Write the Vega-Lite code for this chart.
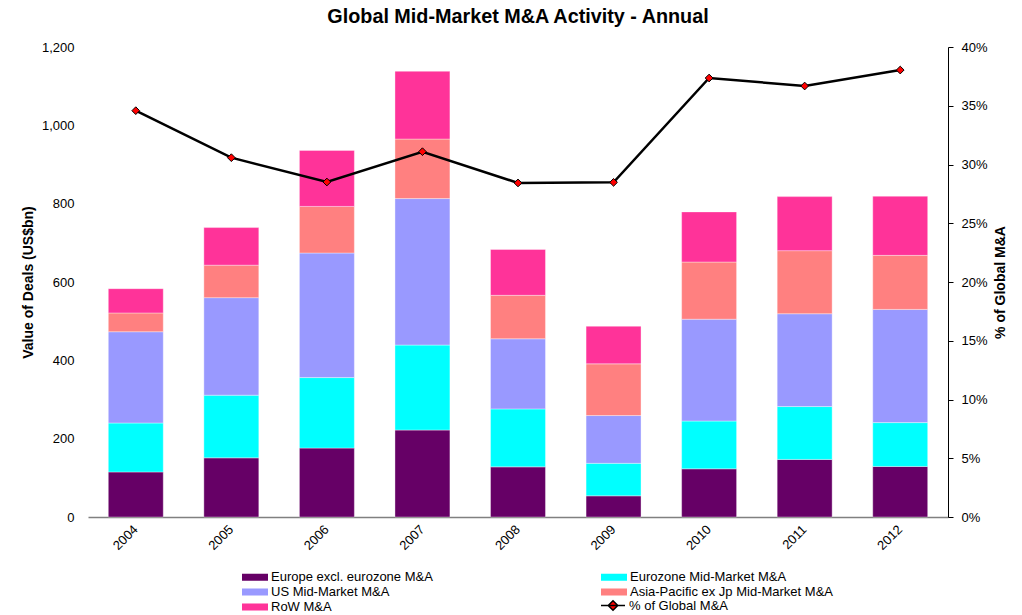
{
  "$schema": "https://vega.github.io/schema/vega-lite/v6.json",
  "width": 860,
  "height": 470,
  "autosize": "none",
  "padding": {"left": 88, "top": 47, "right": 74, "bottom": 98},
  "background": "white",
  "config": {
    "font": "Liberation Sans",
    "view": {"stroke": null},
    "axis": {"labelFont": "Liberation Sans", "titleFont": "Liberation Sans", "labelColor": "black", "titleColor": "black", "grid": false}
  },
  "title": {"text": "Global Mid-Market M&A Activity - Annual", "fontSize": 19.8, "fontWeight": "bold", "font": "Liberation Sans", "anchor": "middle", "offset": 14, "color": "black"},
  "datasets": {
    "bars": [
      {"year": "2004", "series": "Europe excl. eurozone M&A", "o": 1, "value": 115},
      {"year": "2004", "series": "Eurozone Mid-Market M&A", "o": 2, "value": 125},
      {"year": "2004", "series": "US Mid-Market M&A", "o": 3, "value": 233},
      {"year": "2004", "series": "Asia-Pacific ex Jp Mid-Market M&A", "o": 4, "value": 48},
      {"year": "2004", "series": "RoW M&A", "o": 5, "value": 62},
      {"year": "2005", "series": "Europe excl. eurozone M&A", "o": 1, "value": 151},
      {"year": "2005", "series": "Eurozone Mid-Market M&A", "o": 2, "value": 160},
      {"year": "2005", "series": "US Mid-Market M&A", "o": 3, "value": 249},
      {"year": "2005", "series": "Asia-Pacific ex Jp Mid-Market M&A", "o": 4, "value": 83},
      {"year": "2005", "series": "RoW M&A", "o": 5, "value": 96},
      {"year": "2006", "series": "Europe excl. eurozone M&A", "o": 1, "value": 176},
      {"year": "2006", "series": "Eurozone Mid-Market M&A", "o": 2, "value": 180},
      {"year": "2006", "series": "US Mid-Market M&A", "o": 3, "value": 318},
      {"year": "2006", "series": "Asia-Pacific ex Jp Mid-Market M&A", "o": 4, "value": 119},
      {"year": "2006", "series": "RoW M&A", "o": 5, "value": 143},
      {"year": "2007", "series": "Europe excl. eurozone M&A", "o": 1, "value": 222},
      {"year": "2007", "series": "Eurozone Mid-Market M&A", "o": 2, "value": 217},
      {"year": "2007", "series": "US Mid-Market M&A", "o": 3, "value": 374},
      {"year": "2007", "series": "Asia-Pacific ex Jp Mid-Market M&A", "o": 4, "value": 152},
      {"year": "2007", "series": "RoW M&A", "o": 5, "value": 173},
      {"year": "2008", "series": "Europe excl. eurozone M&A", "o": 1, "value": 128},
      {"year": "2008", "series": "Eurozone Mid-Market M&A", "o": 2, "value": 148},
      {"year": "2008", "series": "US Mid-Market M&A", "o": 3, "value": 179},
      {"year": "2008", "series": "Asia-Pacific ex Jp Mid-Market M&A", "o": 4, "value": 111},
      {"year": "2008", "series": "RoW M&A", "o": 5, "value": 117},
      {"year": "2009", "series": "Europe excl. eurozone M&A", "o": 1, "value": 54},
      {"year": "2009", "series": "Eurozone Mid-Market M&A", "o": 2, "value": 83},
      {"year": "2009", "series": "US Mid-Market M&A", "o": 3, "value": 122},
      {"year": "2009", "series": "Asia-Pacific ex Jp Mid-Market M&A", "o": 4, "value": 132},
      {"year": "2009", "series": "RoW M&A", "o": 5, "value": 96},
      {"year": "2010", "series": "Europe excl. eurozone M&A", "o": 1, "value": 123},
      {"year": "2010", "series": "Eurozone Mid-Market M&A", "o": 2, "value": 122},
      {"year": "2010", "series": "US Mid-Market M&A", "o": 3, "value": 260},
      {"year": "2010", "series": "Asia-Pacific ex Jp Mid-Market M&A", "o": 4, "value": 146},
      {"year": "2010", "series": "RoW M&A", "o": 5, "value": 128},
      {"year": "2011", "series": "Europe excl. eurozone M&A", "o": 1, "value": 147},
      {"year": "2011", "series": "Eurozone Mid-Market M&A", "o": 2, "value": 135},
      {"year": "2011", "series": "US Mid-Market M&A", "o": 3, "value": 237},
      {"year": "2011", "series": "Asia-Pacific ex Jp Mid-Market M&A", "o": 4, "value": 161},
      {"year": "2011", "series": "RoW M&A", "o": 5, "value": 138},
      {"year": "2012", "series": "Europe excl. eurozone M&A", "o": 1, "value": 129},
      {"year": "2012", "series": "Eurozone Mid-Market M&A", "o": 2, "value": 112},
      {"year": "2012", "series": "US Mid-Market M&A", "o": 3, "value": 289},
      {"year": "2012", "series": "Asia-Pacific ex Jp Mid-Market M&A", "o": 4, "value": 138},
      {"year": "2012", "series": "RoW M&A", "o": 5, "value": 151}
    ],
    "pct": [
      {"year": "2004", "share": 0.3458},
      {"year": "2005", "share": 0.3058},
      {"year": "2006", "share": 0.2851},
      {"year": "2007", "share": 0.3109},
      {"year": "2008", "share": 0.2843},
      {"year": "2009", "share": 0.2848},
      {"year": "2010", "share": 0.3736},
      {"year": "2011", "share": 0.3668},
      {"year": "2012", "share": 0.3804}
    ]
  },
  "encoding": {
    "x": {
      "field": "year", "type": "nominal", "title": null,
      "scale": {"paddingInner": 0.425, "paddingOuter": 0.2125},
      "axis": {"labelAngle": -45, "labelAlign": "right", "labelBaseline": "middle", "labelFontSize": 13, "labelPadding": 10, "ticks": false, "domainColor": "#808080", "domainWidth": 1.5}
    }
  },
  "layer": [
    {
      "data": {"name": "bars"},
      "mark": {"type": "bar", "stroke": "white", "strokeWidth": 0.6, "strokeOpacity": 0.6},
      "encoding": {
        "y": {
          "field": "value", "type": "quantitative", "aggregate": "sum", "stack": "zero",
          "title": "Value of Deals (US$bn)",
          "scale": {"domain": [0, 1200], "nice": false},
          "axis": {"values": [0, 200, 400, 600, 800, 1000, 1200], "format": ",.0f", "domain": false, "ticks": false, "labelFontSize": 13, "labelPadding": 14, "titleFontSize": 14, "titleFontWeight": "bold", "titleX": -60, "titleY": 235, "titleAngle": -90, "titleAlign": "center", "titleBaseline": "middle"}
        },
        "order": {"field": "o", "type": "quantitative"},
        "color": {
          "field": "series", "type": "nominal",
          "scale": {
            "domain": ["Europe excl. eurozone M&A", "Eurozone Mid-Market M&A", "US Mid-Market M&A", "Asia-Pacific ex Jp Mid-Market M&A", "RoW M&A"],
            "range": ["#660066", "#00FFFF", "#9999FF", "#FF8080", "#FF3399"]
          },
          "legend": {
            "title": null, "orient": "none", "direction": "horizontal", "legendX": 160.5, "legendY": 523.5, "columns": 2, "columnPadding": 167, "rowPadding": 1, "padding": 0,
            "symbolType": "M-2,-0.54H2V0.54H-2Z", "symbolSize": 169, "symbolStrokeWidth": 0,
            "labelFontSize": 13, "labelFont": "Liberation Sans", "labelColor": "black", "labelOffset": 9.5, "labelLimit": 400
          }
        }
      }
    },
    {
      "data": {"name": "pct"},
      "mark": {"type": "line", "strokeWidth": 2.5},
      "encoding": {
        "y": {
          "field": "share", "type": "quantitative", "title": "% of Global M&A",
          "scale": {"domain": [0, 0.4], "nice": false},
          "axis": {"orient": "right", "values": [0, 0.05, 0.1, 0.15, 0.2, 0.25, 0.3, 0.35, 0.4], "format": ".0%", "domainColor": "black", "tickColor": "black", "tickSize": 5, "labelFontSize": 13, "labelPadding": 8, "titleFontSize": 14, "titleFontWeight": "bold", "titleAngle": -90, "titleX": 52, "titleY": 235, "titleAlign": "center", "titleBaseline": "middle"}
        },
        "stroke": {
          "datum": "% of Global M&A", "type": "nominal",
          "scale": {"range": ["black"]},
          "legend": {
            "title": null, "orient": "none", "legendX": 518, "legendY": 551.5, "padding": 0,
            "symbolType": "M-2,0H2M-0.8,0L0,-0.8L0.8,0L0,0.8Z", "symbolSize": 144, "symbolStrokeWidth": 1.5,
            "labelFontSize": 13, "labelFont": "Liberation Sans", "labelColor": "black", "labelOffset": 9,
            "encode": {"symbols": {"update": {"fill": {"value": "#FF0000"}, "stroke": {"value": "black"}, "opacity": {"value": 1}}}}
          }
        }
      }
    },
    {
      "data": {"name": "pct"},
      "mark": {"type": "point", "shape": "diamond", "filled": true, "fill": "#FF0000", "stroke": "black", "strokeWidth": 1, "size": 60, "opacity": 1},
      "encoding": {
        "y": {"field": "share", "type": "quantitative", "scale": {"domain": [0, 0.4], "nice": false}, "axis": null}
      }
    }
  ],
  "resolve": {"scale": {"y": "independent"}}
}
